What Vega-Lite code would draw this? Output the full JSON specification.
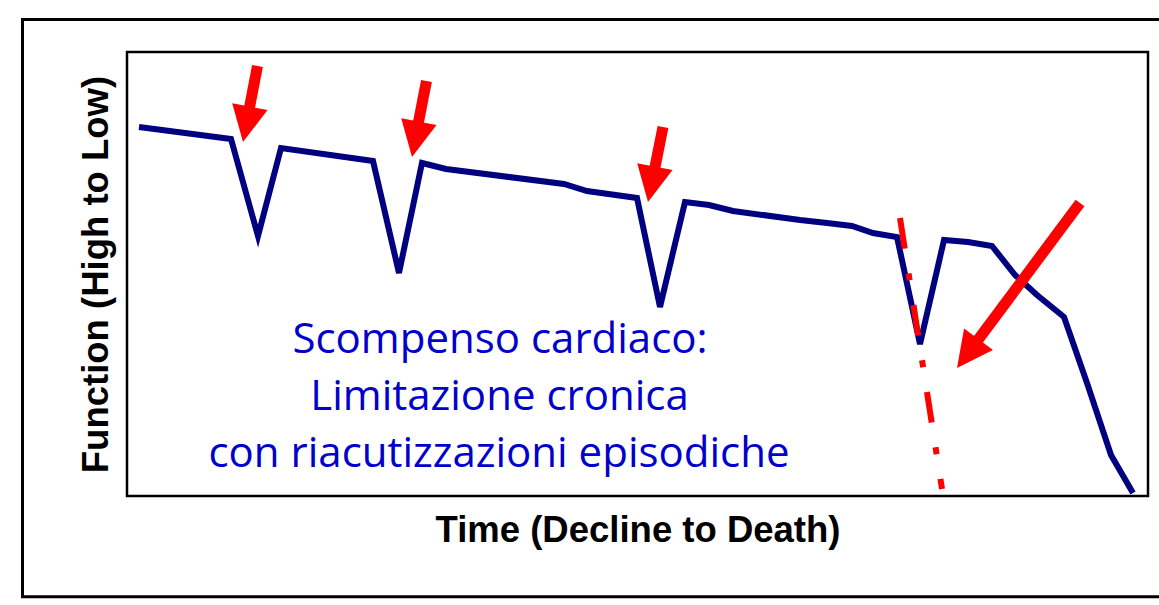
{
  "$schema": "https://vega.github.io/schema/vega-lite/v6.json",
  "autosize": {"type": "none"},
  "padding": {"left": 127, "top": 52, "right": 11, "bottom": 109},
  "width": 1021,
  "height": 444,
  "background": "white",
  "config": {
    "view": {"stroke": "black", "strokeWidth": 2.5},
    "axis": {"grid": false, "labels": false, "ticks": false, "domain": false,
             "titleFont": "Liberation Sans", "titleFontWeight": "bold", "titleFontSize": 36.5, "titleColor": "black"}
  },
  "datasets": {
    "curve": [
      {"t": 12, "f": 369}, {"t": 104, "f": 357}, {"t": 131, "f": 260}, {"t": 154, "f": 348},
      {"t": 246, "f": 335}, {"t": 272, "f": 223}, {"t": 295, "f": 333}, {"t": 319, "f": 327},
      {"t": 437, "f": 312}, {"t": 460, "f": 305}, {"t": 510, "f": 298}, {"t": 533, "f": 189},
      {"t": 558, "f": 294}, {"t": 582, "f": 291}, {"t": 606, "f": 285}, {"t": 673, "f": 276},
      {"t": 700, "f": 273}, {"t": 725, "f": 270}, {"t": 746, "f": 263}, {"t": 770, "f": 259},
      {"t": 793, "f": 152}, {"t": 817, "f": 256}, {"t": 841, "f": 254}, {"t": 865, "f": 250},
      {"t": 888, "f": 221}, {"t": 910, "f": 201}, {"t": 937, "f": 179}, {"t": 960, "f": 113},
      {"t": 984, "f": 41}, {"t": 1006, "f": 3}
    ],
    "sudden": [
      {"t": 773, "f": 278}, {"t": 815, "f": 7}
    ],
    "arrows": [
      {"arrow": "1", "big": false, "t_tail": 130.5, "f_tail": 430, "t_end": 121.9, "f_end": 385.5, "t_tip": 116, "f_tip": 354},
      {"arrow": "2", "big": false, "t_tail": 299.5, "f_tail": 415, "t_end": 290.8, "f_end": 370.5, "t_tip": 285, "f_tip": 339},
      {"arrow": "3", "big": false, "t_tail": 536, "f_tail": 369, "t_end": 527.3, "f_end": 325.4, "t_tip": 521, "f_tip": 294},
      {"arrow": "4", "big": true, "t_tail": 953, "f_tail": 293, "t_end": 849.1, "f_end": 153.6, "t_tip": 830, "f_tip": 128}
    ],
    "caption": [
      {"line": 1, "t": 373, "f": 143, "text": "Scompenso cardiaco:"},
      {"line": 2, "t": 372.5, "f": 86, "text": "Limitazione cronica"},
      {"line": 3, "t": 372, "f": 29, "text": "con riacutizzazioni episodiche"}
    ]
  },
  "layer": [
    {
      "data": {"values": [{}]},
      "mark": {"type": "rect", "fill": null, "stroke": "black", "strokeWidth": 3, "clip": false},
      "encoding": {
        "x": {"datum": -104.5, "type": "quantitative", "scale": {"domain": [0, 1021], "nice": false, "zero": false}},
        "x2": {"datum": 1045},
        "y": {"datum": -100.7, "type": "quantitative", "scale": {"domain": [0, 444], "nice": false, "zero": false}},
        "y2": {"datum": 476.5}
      }
    },
    {
      "data": {"name": "curve"},
      "mark": {"type": "line", "color": "#000080", "strokeWidth": 6, "strokeJoin": "miter", "strokeCap": "butt"},
      "encoding": {
        "x": {"field": "t", "type": "quantitative", "axis": {"title": "Time (Decline to Death)", "titlePadding": 16}},
        "y": {"field": "f", "type": "quantitative", "axis": {"title": "Function (High to Low)", "titlePadding": 12}}
      }
    },
    {
      "data": {"name": "sudden"},
      "mark": {"type": "line", "color": "#ff0000", "strokeWidth": 6, "strokeCap": "butt", "strokeDash": [31, 25, 7, 25]},
      "encoding": {
        "x": {"field": "t", "type": "quantitative"},
        "y": {"field": "f", "type": "quantitative"}
      }
    },
    {
      "data": {"name": "arrows"},
      "mark": {"type": "rule", "color": "#ff0000", "strokeWidth": 11, "strokeCap": "butt"},
      "encoding": {
        "x": {"field": "t_tail", "type": "quantitative"},
        "y": {"field": "f_tail", "type": "quantitative"},
        "x2": {"field": "t_end"},
        "y2": {"field": "f_end"}
      }
    },
    {
      "data": {"name": "arrows"},
      "transform": [{"filter": "!datum.big"}],
      "mark": {"type": "point", "shape": "M0,0L-1,-2L1,-2Z", "size": 1296, "filled": true, "color": "#ff0000", "opacity": 1, "strokeWidth": 0, "angle": 11},
      "encoding": {
        "x": {"field": "t_tip", "type": "quantitative"},
        "y": {"field": "f_tip", "type": "quantitative"}
      }
    },
    {
      "data": {"name": "arrows"},
      "transform": [{"filter": "datum.big"}],
      "mark": {"type": "point", "shape": "M0,0L-1,-2L1,-2Z", "size": 1296, "filled": true, "color": "#ff0000", "opacity": 1, "strokeWidth": 0, "angle": 36.7},
      "encoding": {
        "x": {"field": "t_tip", "type": "quantitative"},
        "y": {"field": "f_tip", "type": "quantitative"}
      }
    },
    {
      "data": {"name": "caption"},
      "mark": {"type": "text", "font": "Open Sans", "fontSize": 42, "color": "#0000cc", "align": "center", "baseline": "alphabetic"},
      "encoding": {
        "x": {"field": "t", "type": "quantitative"},
        "y": {"field": "f", "type": "quantitative"},
        "text": {"field": "text"}
      }
    }
  ]
}
